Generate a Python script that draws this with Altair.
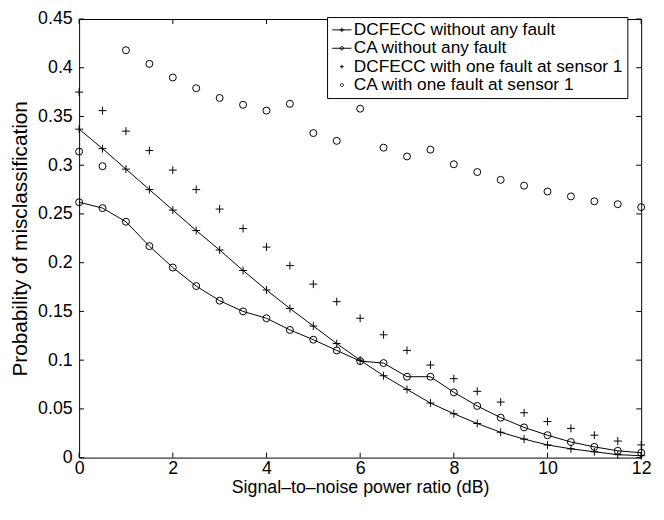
import altair as alt
import pandas as pd

# ---- data ----
snr = [0, 0.5, 1, 1.5, 2, 2.5, 3, 3.5, 4, 4.5, 5, 5.5, 6, 6.5, 7, 7.5, 8, 8.5, 9, 9.5, 10, 10.5, 11, 11.5, 12]
dcfecc_nofault = [0.337, 0.317, 0.296, 0.275, 0.254, 0.233, 0.213, 0.192, 0.172, 0.153, 0.135, 0.117, 0.100,
                  0.084, 0.070, 0.056, 0.045, 0.035, 0.026, 0.019, 0.013, 0.009, 0.006, 0.003, 0.002]
ca_nofault = [0.262, 0.256, 0.242, 0.217, 0.195, 0.176, 0.161, 0.150, 0.143, 0.131, 0.121, 0.110, 0.099,
              0.097, 0.083, 0.083, 0.067, 0.053, 0.041, 0.031, 0.023, 0.016, 0.011, 0.007, 0.005]
dcfecc_fault = [0.375, 0.356, 0.335, 0.315, 0.295, 0.275, 0.255, 0.235, 0.216, 0.197, 0.178, 0.160, 0.143,
                0.126, 0.110, 0.095, 0.081, 0.068, 0.057, 0.046, 0.037, 0.030, 0.023, 0.017, 0.013]
ca_fault = [0.314, 0.299, 0.418, 0.404, 0.390, 0.379, 0.369, 0.362, 0.356, 0.363, 0.333, 0.325, 0.358,
            0.318, 0.309, 0.316, 0.301, 0.293, 0.285, 0.279, 0.273, 0.268, 0.263, 0.260, 0.257]

series_names = ["DCFECC without any fault", "CA without any fault",
                "DCFECC with one fault at sensor 1", "CA with one fault at sensor 1"]
x_ticks = [0, 2, 4, 6, 8, 10, 12]
y_ticks = [0, 0.05, 0.1, 0.15, 0.2, 0.25, 0.3, 0.35, 0.4, 0.45]

W, H = 569, 444
FONT = "Liberation Sans"

rows = []
for name, vals in zip(series_names, [dcfecc_nofault, ca_nofault, dcfecc_fault, ca_fault]):
    for s, v in zip(snr, vals):
        rows.append({"snr": s, "p": v, "series": name})
df = pd.DataFrame(rows)
xt = pd.DataFrame({"snr": x_ticks})
yt = pd.DataFrame({"p": y_ticks})

PLUS = "M-1,0H1M0,-1V1"
xs = alt.X("snr:Q", scale=alt.Scale(domain=[0, 12], nice=False),
           axis=alt.Axis(values=x_ticks, format="d", title="Signal\u2013to\u2013noise power ratio (dB)",
                         ticks=False, domain=False, grid=False, labelPadding=2, labelFlush=False,
                         titleY=21, titleBaseline="top",
                         labelFontSize=18, titleFontSize=18, labelFont=FONT, titleFont=FONT,
                         labelColor="black", titleColor="black", titleFontWeight="normal"))
ys = alt.Y("p:Q", scale=alt.Scale(domain=[0, 0.45], nice=False),
           axis=alt.Axis(values=y_ticks, format="~g", title="Probability of misclassification",
                         ticks=False, domain=False, grid=False, labelPadding=7, titlePadding=7,
                         labelFlush=False,
                         labelFontSize=18, titleFontSize=21, labelFont=FONT, titleFont=FONT,
                         labelColor="black", titleColor="black", titleFontWeight="normal"))

base = alt.Chart(df)

def sel(name):
    return base.transform_filter(alt.datum.series == name)

line1 = sel(series_names[0]).mark_line(color="black", strokeWidth=1).encode(x=xs, y=ys)
pts1 = sel(series_names[0]).mark_point(shape=PLUS, size=64, filled=False, color="black", strokeWidth=1, opacity=1).encode(x=xs, y=ys)
line2 = sel(series_names[1]).mark_line(color="black", strokeWidth=1).encode(x=xs, y=ys)
pts2 = sel(series_names[1]).mark_point(shape="circle", size=50, filled=False, color="black", strokeWidth=1, opacity=1).encode(x=xs, y=ys)
pts3 = sel(series_names[2]).mark_point(shape=PLUS, size=64, filled=False, color="black", strokeWidth=1, opacity=1).encode(x=xs, y=ys)
pts4 = sel(series_names[3]).mark_point(shape="circle", size=50, filled=False, color="black", strokeWidth=1, opacity=1).encode(x=xs, y=ys)

legend_paths = [
    "M-1.15,0H1.15M0,-0.27V0.27M-0.27,0H0.27",
    "M-1.15,0H1.15M-0.2,0A0.2,0.2 0 1,1 0.2,0A0.2,0.2 0 1,1 -0.2,0",
    "M0,-0.22V0.22M-0.22,0H0.22",
    "M-0.18,0A0.18,0.18 0 1,1 0.18,0A0.18,0.18 0 1,1 -0.18,0",
]
legend_layer = base.transform_filter("false").mark_point(filled=False, color="black", strokeWidth=1, opacity=1).encode(
    shape=alt.Shape("series:N", scale=alt.Scale(domain=series_names, range=legend_paths),
                    legend=alt.Legend(title=None, orient="none", legendX=251, legendY=-2,
                                      padding=4, strokeColor="black", fillColor="white",
                                      labelFontSize=17.5, labelFont=FONT, labelColor="black",
                                      symbolSize=289, symbolStrokeColor="black",
                                      symbolFillColor="transparent", symbolStrokeWidth=1,
                                      rowPadding=0.6, labelOffset=3, symbolOffset=2,
                                      labelLimit=400))
)

tick_bottom = alt.Chart(xt).mark_rule(color="black", strokeWidth=1).encode(x=xs, y=alt.value(H), y2=alt.value(H - 5))
tick_top = alt.Chart(xt).mark_rule(color="black", strokeWidth=1).encode(x=xs, y=alt.value(0), y2=alt.value(5))
tick_left = alt.Chart(yt).mark_rule(color="black", strokeWidth=1).encode(y=ys, x=alt.value(0), x2=alt.value(5))
tick_right = alt.Chart(yt).mark_rule(color="black", strokeWidth=1).encode(y=ys, x=alt.value(W - 5), x2=alt.value(W))

chart = alt.layer(
    line1, pts1, line2, pts2, pts3, pts4, legend_layer,
    tick_bottom, tick_top, tick_left, tick_right
).properties(
    width=W, height=H,
    autosize=alt.AutoSizeParams(type="none"),
    padding={"left": 72, "top": 8, "right": 15, "bottom": 60},
    background="white",
).configure_view(stroke="black", strokeWidth=1)

chart.save("out.html", embed_options={"renderer": "svg", "actions": False})
